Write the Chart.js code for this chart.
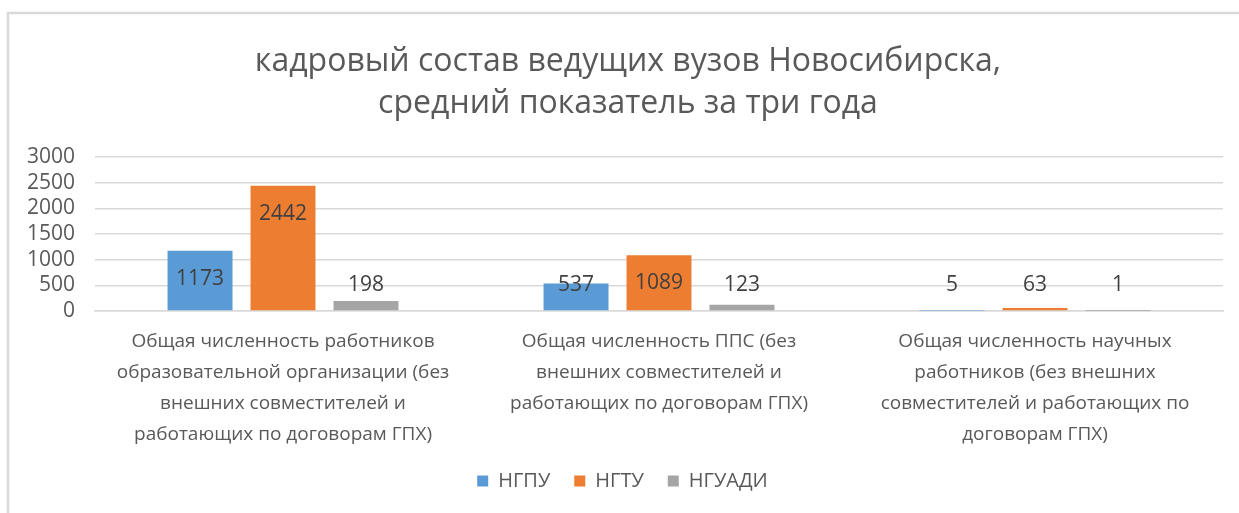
<!DOCTYPE html>
<html lang="ru">
<head>
    <meta charset="UTF-8">
    <title>кадровый состав ведущих вузов Новосибирска</title>
    <script src="https://cdn.jsdelivr.net/npm/chart.js"></script>
    <style>
        html, body {
            margin: 0;
            padding: 0;
            background: #fff;
        }
        #wrap {
            width: 1239px;
            height: 513px;
            position: relative;
        }
    </style>
</head>
<body>
    <div id="wrap">
        <canvas id="staffChart" width="1239" height="513"></canvas>
    </div>

    <script>
        var titleLines = ['кадровый состав ведущих вузов Новосибирска,', 'средний показатель за три года'];
        var categories = [
            ['Общая численность работников', 'образовательной организации (без', 'внешних совместителей и', 'работающих по договорам ГПХ)'],
            ['Общая численность ППС (без', 'внешних совместителей и', 'работающих по договорам ГПХ)'],
            ['Общая численность научных', 'работников (без внешних', 'совместителей и работающих по', 'договорам ГПХ)']
        ];
        var seriesNames = ['НГПУ', 'НГТУ', 'НГУАДИ'];
        var ngpu = [1173, 537, 5];
        var ngtu = [2442, 1089, 63];
        var nguadi = [198, 123, 1];
        var yTicks = [0, 500, 1000, 1500, 2000, 2500, 3000];

        var colors = ['#5B9BD5', '#ED7D31', '#A5A5A5'];
        var textColor = '#595959';
        var fontFamily = "'Open Sans', sans-serif";

        // grey frame along the top and left edge, plus the two-line title
        // (centred on the whole frame, not on the padded layout box)
        var framePlugin = {
            id: 'frame',
            beforeDraw: function(chart) {
                var ctx = chart.ctx;
                ctx.save();
                ctx.fillStyle = '#fff';
                ctx.fillRect(0, 0, chart.width, chart.height);
                ctx.strokeStyle = '#d9d9d9';
                ctx.lineWidth = 2.5;
                ctx.beginPath();
                ctx.moveTo(8, chart.height);
                ctx.lineTo(8, 13);
                ctx.lineTo(chart.width, 13);
                ctx.stroke();

                ctx.fillStyle = textColor;
                ctx.font = '32px ' + fontFamily;
                ctx.textAlign = 'center';
                ctx.textBaseline = 'middle';
                titleLines.forEach(function(line, i) {
                    ctx.fillText(line, 628, 62 + i * 42);
                });
                ctx.restore();
            }
        };

        // value labels, inside the bar top or just above the axis for short bars
        var valueLabels = {
            id: 'valueLabels',
            afterDatasetsDraw: function(chart) {
                var ctx = chart.ctx;
                var base = chart.scales.y.getPixelForValue(0);
                ctx.save();
                ctx.font = '21px ' + fontFamily;
                ctx.fillStyle = '#404040';
                ctx.textAlign = 'center';
                ctx.textBaseline = 'middle';
                chart.data.datasets.forEach(function(ds, i) {
                    chart.getDatasetMeta(i).data.forEach(function(bar, j) {
                        var y = Math.min(bar.y + 28, base - 26);
                        ctx.fillText(String(ds.data[j]), bar.x, y);
                    });
                });
                ctx.restore();
            }
        };

        new Chart(document.getElementById('staffChart').getContext('2d'), {
            type: 'bar',
            data: {
                labels: categories,
                datasets: [
                    { label: seriesNames[0], data: ngpu, backgroundColor: colors[0] },
                    { label: seriesNames[1], data: ngtu, backgroundColor: colors[1] },
                    { label: seriesNames[2], data: nguadi, backgroundColor: colors[2] }
                ]
            },
            options: {
                responsive: false,
                animation: false,
                datasets: {
                    bar: {
                        categoryPercentage: 0.662,
                        barPercentage: 0.783
                    }
                },
                layout: {
                    padding: { left: 22, right: 16, top: 157, bottom: 12 }
                },
                plugins: {
                    title: { display: false },
                    legend: {
                        position: 'bottom',
                        labels: {
                            color: textColor,
                            font: { family: fontFamily, size: 20 },
                            boxWidth: 11,
                            boxHeight: 11,
                            padding: 24
                        }
                    },
                    tooltip: { enabled: false }
                },
                scales: {
                    x: {
                        grid: { display: false, drawTicks: false },
                        border: { color: '#d9d9d9', width: 1.5 },
                        afterFit: function(scale) {
                            scale.height = scale.height - 18;
                        },
                        ticks: {
                            color: textColor,
                            font: { family: fontFamily, size: 19, lineHeight: 1.63 },
                            padding: 15,
                            maxRotation: 0,
                            autoSkip: false
                        }
                    },
                    y: {
                        min: 0,
                        max: 3000,
                        afterBuildTicks: function(scale) {
                            scale.ticks = yTicks.map(function(v) { return { value: v }; });
                        },
                        afterFit: function(scale) {
                            scale.width = 73;
                        },
                        grid: { color: '#d9d9d9', lineWidth: 1.5, drawTicks: false },
                        border: { display: false },
                        ticks: {
                            color: textColor,
                            font: { family: fontFamily, size: 21 },
                            padding: 20,
                            autoSkip: false,
                            callback: function(v) { return String(v); }
                        }
                    }
                }
            },
            plugins: [framePlugin, valueLabels]
        });
    </script>
</body>
</html>
